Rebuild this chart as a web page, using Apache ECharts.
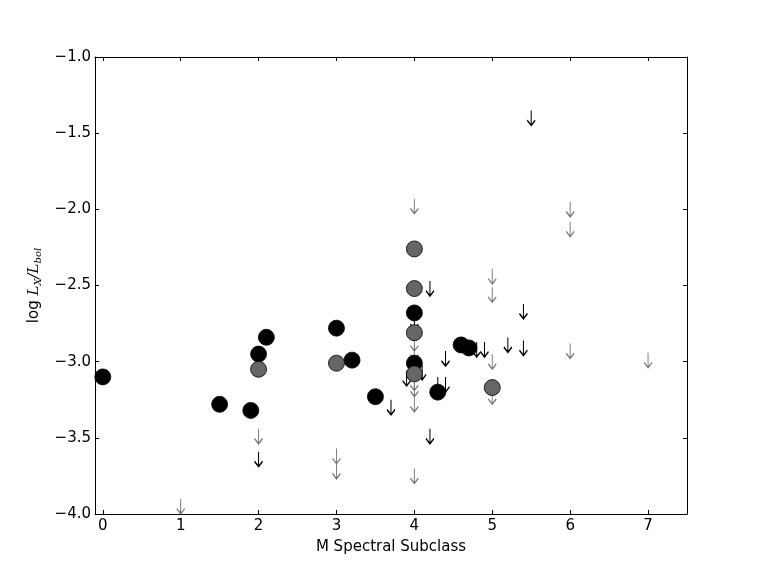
<!DOCTYPE html>
<html>
<head>
<meta charset="utf-8">
<script src="https://cdn.jsdelivr.net/npm/echarts@6/dist/echarts.min.js"></script>
<style>html,body{margin:0;padding:0;background:#fff}#c{width:763px;height:572px}</style>
</head>
<body>
<div id="c"></div>
<script>
// Detections (black filled circles)
var blackX = [0, 1.5, 1.9, 2.0, 2.1, 3.0, 3.2, 3.5, 4.0, 4.0, 4.3, 4.6, 4.7];
var blackY = [-3.10, -3.28, -3.32, -2.95, -2.84, -2.78, -2.99, -3.23, -2.68, -3.01, -3.20, -2.89, -2.91];
// Detections (grey filled circles)
var greyX = [2.0, 3.0, 4.0, 4.0, 4.0, 4.0, 5.0];
var greyY = [-3.05, -3.01, -2.26, -2.52, -2.81, -3.08, -3.17];
// Upper limits (black arrows)
var blackArrowX = [2.0, 3.7, 3.9, 4.0, 4.1, 4.2, 4.2, 4.3, 4.4, 4.4, 4.8, 4.9, 5.2, 5.4, 5.4, 5.5];
var blackArrowY = [-3.64, -3.30, -3.11, -2.74, -3.07, -2.52, -3.49, -3.15, -2.98, -3.15, -2.92, -2.92, -2.89, -2.67, -2.91, -1.40];
// Upper limits (grey arrows)
var greyArrowX = [1, 2, 3, 3, 4, 4, 4, 4, 4, 4, 4, 5, 5, 5, 5, 6, 6, 6, 7];
var greyArrowY = [-3.95, -3.49, -3.62, -3.72, -1.98, -2.88, -2.94, -3.14, -3.18, -3.28, -3.75, -2.44, -2.56, -3.00, -3.23, -2.00, -2.13, -2.93, -2.99];
// Tick labels
var xTicks = [0, 1, 2, 3, 4, 5, 6, 7];
var yTicks = [-4.0, -3.5, -3.0, -2.5, -2.0, -1.5, -1.0];

function pairs(xs, ys) { return xs.map(function (x, i) { return [x, ys[i]]; }); }
var arrowPath = 'path://M5,0 L5,20 M0,13 L5,20 L10,13';
var FONT = 'DejaVu Sans';
function fmtY(v) { return (v < 0 ? '\u2212' : '') + Math.abs(v).toFixed(1); }

var chart = echarts.init(document.getElementById('c'), null, { renderer: 'canvas' });
chart.setOption({
  animation: false,
  backgroundColor: '#fff',
  grid: { left: 95, right: 76, top: 57, bottom: 58, containLabel: false },
  xAxis: [{
    type: 'value', min: -0.1, max: 7.5, position: 'bottom',
    name: 'M Spectral Subclass', nameLocation: 'middle', nameGap: 26,
    nameTextStyle: { fontFamily: FONT, fontSize: 15, color: '#000' },
    axisLine: { show: true, onZero: false, lineStyle: { color: '#000', width: 1 } },
    axisTick: { show: true, inside: true, length: 4, customValues: xTicks, lineStyle: { color: '#000' } },
    axisLabel: { show: true, customValues: xTicks, margin: 5, fontFamily: FONT, fontSize: 15, color: '#000' },
    splitLine: { show: false }
  }, {
    type: 'value', min: -0.1, max: 7.5, position: 'top',
    axisLine: { show: true, onZero: false, lineStyle: { color: '#000', width: 1 } },
    axisTick: { show: true, inside: true, length: 4, customValues: xTicks, lineStyle: { color: '#000' } },
    axisLabel: { show: false }, splitLine: { show: false }
  }],
  yAxis: [{
    type: 'value', min: -4, max: -1, interval: 0.5, position: 'left',
    name: '{n|log }{i|L}{s|X}{i|/L}{s|bol}', nameLocation: 'middle', nameGap: 45,
    nameTextStyle: {
      color: '#000',
      rich: {
        n: { fontFamily: FONT, fontSize: 15, color: '#000', verticalAlign: 'middle', lineHeight: 20 },
        i: { fontFamily: 'DejaVu Serif', fontStyle: 'italic', fontSize: 15, color: '#000', verticalAlign: 'middle', lineHeight: 20 },
        s: { fontFamily: 'DejaVu Serif', fontStyle: 'italic', fontSize: 10, color: '#000', verticalAlign: 'bottom', lineHeight: 20, padding: [7, 0, 0, 0] }
      }
    },
    axisLine: { show: true, onZero: false, lineStyle: { color: '#000', width: 1 } },
    axisTick: { show: true, inside: true, length: 4, lineStyle: { color: '#000' } },
    axisLabel: { show: true, margin: 4, fontFamily: FONT, fontSize: 15, color: '#000', formatter: fmtY },
    splitLine: { show: false }
  }, {
    type: 'value', min: -4, max: -1, interval: 0.5, position: 'right',
    axisLine: { show: true, onZero: false, lineStyle: { color: '#000', width: 1 } },
    axisTick: { show: true, inside: true, length: 4, lineStyle: { color: '#000' } },
    axisLabel: { show: false }, splitLine: { show: false }
  }],
  series: [{
    type: 'scatter', name: 'greyArrows', z: 2,
    data: pairs(greyArrowX, greyArrowY),
    symbol: arrowPath, symbolSize: [8, 15],
    itemStyle: { color: 'rgba(0,0,0,0)', borderColor: '#787878', borderWidth: 1.3, opacity: 1 },
    emphasis: { disabled: true }, silent: true
  }, {
    type: 'scatter', name: 'blackArrows', z: 3,
    data: pairs(blackArrowX, blackArrowY),
    symbol: arrowPath, symbolSize: [8, 15],
    itemStyle: { color: 'rgba(0,0,0,0)', borderColor: '#000', borderWidth: 1.4, opacity: 1 },
    emphasis: { disabled: true }, silent: true
  }, {
    type: 'scatter', name: 'black', z: 4,
    data: pairs(blackX, blackY),
    symbol: 'circle', symbolSize: 16,
    itemStyle: { color: '#000', borderColor: '#000', borderWidth: 0.8, opacity: 1 },
    emphasis: { disabled: true }, silent: true
  }, {
    type: 'scatter', name: 'grey', z: 5,
    data: pairs(greyX, greyY),
    symbol: 'circle', symbolSize: 16,
    itemStyle: { color: '#666666', borderColor: '#000', borderWidth: 0.8, opacity: 1 },
    emphasis: { disabled: true }, silent: true
  }]
});
</script>
</body>
</html>
